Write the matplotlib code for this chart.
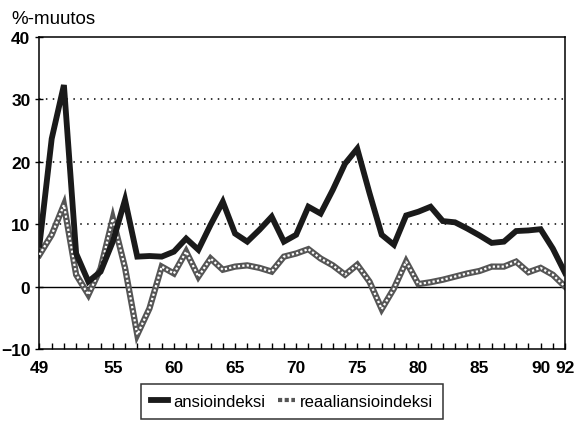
import matplotlib
matplotlib.use("Agg")
import matplotlib.pyplot as plt
from matplotlib.lines import Line2D

plt.rcParams['font.family'] = ['Liberation Sans', 'DejaVu Sans']

years = list(range(1949, 1993))
ansio = [6.7, 23.7, 32.3, 5.3, 0.8, 2.4, 7.2, 13.9, 4.8, 4.9, 4.8, 5.6,
         7.7, 5.9, 9.9, 13.6, 8.5, 7.2, 9.1, 11.2, 7.2, 8.3, 12.8, 11.7,
         15.5, 19.7, 22.1, 15.0, 8.3, 6.7, 11.4, 12.0, 12.8, 10.5, 10.3, 9.3,
         8.2, 7.0, 7.2, 8.9, 9.0, 9.2, 6.1, 2.2]
reaali = [5.1, 8.3, 13.1, 1.9, -1.3, 2.9, 10.9, 3.0, -7.7, -3.5, 3.2, 2.1,
          5.6, 1.6, 4.5, 2.7, 3.2, 3.4, 3.0, 2.4, 4.8, 5.3, 6.0, 4.5,
          3.4, 1.9, 3.5, 0.8, -3.6, -0.3, 4.0, 0.4, 0.7, 1.1, 1.6, 2.1,
          2.5, 3.2, 3.2, 4.0, 2.3, 3.0, 1.9, 0.0]
label_years = [1949, 1955, 1960, 1965, 1970, 1975, 1980, 1985, 1990, 1992]

fig = plt.figure(figsize=(5.84, 4.31), dpi=100)
ax = fig.add_axes([0.0676, 0.188, 0.8999, 0.7238])

for v in [10, 20, 30]:
    ax.axhline(v, color="black", lw=1.1, ls=(0, (1, 3.5)), zorder=1)
ax.axhline(0, color="black", lw=1.0, zorder=1)

# hatched line: grey base with white dots on top
ax.plot(years, reaali, color="#555555", lw=4.5, zorder=2, solid_joinstyle="miter")
ax.plot(years, reaali, color="white", lw=1.6, ls=(0, (1, 1)), zorder=3)
ax.plot(years, ansio, color="#1a1a1a", lw=4.2, zorder=4, solid_joinstyle="miter")

ax.set_xlim(1949, 1992)
ax.set_ylim(-10, 40)
ax.set_yticks([-10, 0, 10, 20, 30, 40])
ax.set_xticks(years)
ax.set_xticklabels([str(y)[2:] if y in label_years else "" for y in years])
ax.tick_params(axis="x", direction="in", length=4, width=1, pad=8, labelsize=12.5)
ax.tick_params(axis="y", direction="inout", length=6, width=1, labelsize=12.5)
for lab in ax.get_xticklabels() + ax.get_yticklabels():
    lab.set_fontweight("bold")
for s in ax.spines.values():
    s.set_linewidth(1.1)

fig.text(0.02, 0.945, "%-muutos", fontsize=13.5)

h1 = Line2D([], [], color="#1a1a1a", lw=4.2)
h2 = Line2D([], [], color="#555555", lw=3, ls=(0, (1, 0.6)))
leg = fig.legend([h1, h2], ["ansioindeksi", "reaaliansioindeksi"],
                 loc="center", bbox_to_anchor=(0.5, 0.067), ncol=2,
                 frameon=True, fancybox=False, edgecolor="black",
                 fontsize=12, handlelength=1.0, handletextpad=0.3,
                 columnspacing=0.8, borderpad=0.6)
leg.get_frame().set_linewidth(1.1)

fig.savefig("out.png", dpi=100)
